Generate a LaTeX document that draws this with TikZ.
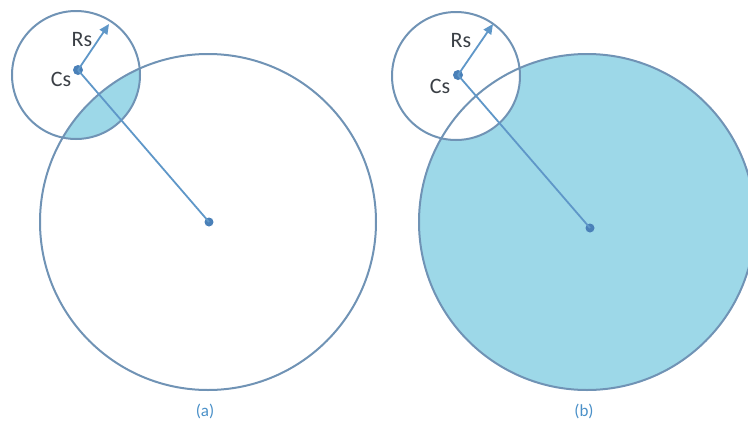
\documentclass[tikz,border=0pt]{standalone}
\usepackage{fontspec}
\setmainfont{Carlito}
\usetikzlibrary{arrows.meta}
\definecolor{ring}{HTML}{7093B5}
\definecolor{fillc}{HTML}{9DD8E8}
\definecolor{linec}{HTML}{5F97C8}
\definecolor{dotc}{HTML}{4A80B8}
\definecolor{txt}{HTML}{3A3F45}
\definecolor{lbl}{HTML}{4A90C8}
\tikzset{
  ringline/.style={draw=ring, line width=2pt},
  radline/.style={draw=linec, line width=1.8pt},
  arrline/.style={draw=linec, line width=1.8pt, -{Triangle[length=10pt,width=9pt]}},
  dotn/.style={circle, fill=dotc, inner sep=0pt, minimum size=10pt},
  txtn/.style={text=txt, font=\fontsize{22}{24}\selectfont, inner sep=0pt},
  lbln/.style={text=lbl, font=\fontsize{17}{19}\selectfont, inner sep=0pt}
}
\begin{document}
\begin{tikzpicture}[x=1pt,y=-1pt]
\useasboundingbox (0,0) rectangle (748,429);
% ---------- (a)
\coordinate (sa) at (76,75);
\coordinate (ba) at (208,222);
\begin{scope}
  \clip (sa) circle (64);
  \fill[fillc] (ba) circle (168);
\end{scope}
\draw[ringline] (ba) circle (168);
\draw[ringline] (sa) circle (64);
\node[dotn] (csa) at (78,70) {};
\node[dotn, minimum size=9pt] (cba) at (209,222) {};
\coordinate (tipa) at (109,24);
\draw[radline] (csa.center) -- (cba.center);
\draw[arrline] (csa.center) -- (tipa);
\node[txtn] (rsa) at (82,40) {Rs};
\node[txtn] (csla) at (61,79) {Cs};
\node[lbln] (la) at (205,411) {(a)};
% ---------- (b)
\coordinate (sb) at (456,76);
\coordinate (bb) at (587,222);
\fill[fillc] (bb) circle (168);
\fill[white] (sb) circle (64);
\draw[ringline] (bb) circle (168);
\draw[ringline] (sb) circle (64);
\node[dotn] (csb) at (458,75) {};
\node[dotn, minimum size=9pt] (cbb) at (590,228) {};
\coordinate (tipb) at (493,24);
\draw[radline] (csb.center) -- (cbb.center);
\draw[arrline] (csb.center) -- (tipb);
\node[txtn] (rsb) at (461,41) {Rs};
\node[txtn] (cslb) at (440,86) {Cs};
\node[lbln] (lb) at (584,411) {(b)};
\end{tikzpicture}
\end{document}
